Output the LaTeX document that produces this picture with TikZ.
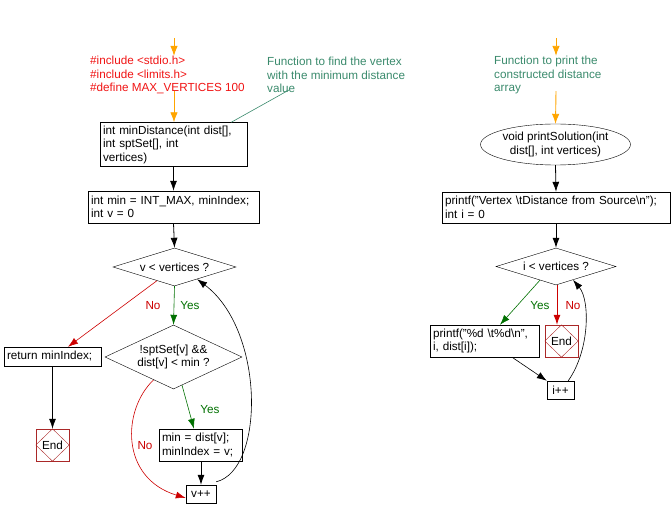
\documentclass[tikz,border=0pt]{standalone}
\usepackage{fontspec}
\setmainfont{Liberation Sans}
\usetikzlibrary{shapes.geometric,arrows.meta,calc}
\definecolor{orangeA}{RGB}{255,165,0}
\definecolor{hdrRed}{RGB}{240,20,20}
\definecolor{noRed}{RGB}{204,0,0}
\definecolor{yesGreen}{RGB}{0,112,0}
\definecolor{cmtGreen}{RGB}{58,138,108}
\definecolor{endRed}{RGB}{170,40,40}
\tikzset{
  every node/.style={font=\fontsize{11.7}{13.5}\selectfont},
  box/.style={draw, rectangle, inner xsep=3pt, inner ysep=0pt, align=left},
  dec/.style={draw, diamond, inner sep=0pt, align=center},
  endbox/.style={draw=endRed, rectangle, minimum width=33pt, minimum height=32pt, inner sep=0pt},
  txt/.style={inner sep=0pt, align=left, anchor=west},
  flow/.style={draw=black, line width=0.8pt, -{Latex[length=10pt,width=7pt]}},
  thinflow/.style={draw=black, line width=0.6pt, -{Latex[length=10pt,width=7pt]}},
  oflow/.style={draw=orangeA, line width=0.9pt, -{Latex[length=10pt,width=7.5pt]}},
  yflow/.style={draw=yesGreen, line width=0.6pt, -{Latex[length=10pt,width=7pt]}},
  nflow/.style={draw=noRed, line width=0.6pt, -{Latex[length=10pt,width=7pt]}},
  ylab/.style={text=yesGreen, inner sep=0pt},
  nlab/.style={text=noRed, inner sep=0pt},
}
\begin{document}
\begin{tikzpicture}[x=1pt,y=-1pt]
\useasboundingbox (0,0) rectangle (672,518);
% ---------- left function ----------
\coordinate (top1) at (174,38);
\node[txt, text=hdrRed] (hdr) at (90,75) {\#include <stdio.h>\\\#include <limits.h>\\\#define MAX\_VERTICES 100};
\node[txt, text=cmtGreen] (cm1) at (267,75) {Function to find the vertex\\with the minimum distance\\value};
\node[box, text width=141pt, minimum height=44pt] (fn) at (173.5,144.5) {int minDistance(int dist[],\\int sptSet[], int\\vertices)};
\node[box, text width=165pt, minimum height=32pt] (init) at (173.5,207) {int min = INT\_MAX, minIndex;\\int v = 0};
\node[dec, minimum width=123pt, minimum height=38pt, shape aspect=3.2] (d1) at (174.5,267) {v < vertices ?};
\node[dec, minimum width=137pt, minimum height=64pt, shape aspect=2.1] (d2) at (173.5,357) {!sptSet[v] \&\&\\dist[v] < min ?};
\node[box, text width=91pt, minimum height=19pt] (ret) at (52.5,356.5) {return minIndex;};
\node[endbox] (end1) at (52.5,445) {End};
\draw[endRed] (end1.north) -- (end1.east) -- (end1.south) -- (end1.west) -- cycle;
\node[box, text width=77pt, minimum height=32pt] (upd) at (200.5,445) {min = dist[v];\\minIndex = v;};
\node[box, text width=24pt, minimum height=18pt, align=center] (vpp) at (201,494) {v++};

\draw[oflow] (top1) -- (top1 |- hdr.north);
\draw[oflow] ([yshift=3pt]top1 |- hdr.south) -- (top1 |- fn.north);
\draw[cmtGreen, line width=0.6pt] ([xshift=22pt,yshift=3pt]cm1.south west) -- ([xshift=-16pt]fn.north east);
\draw[flow] (fn.south) -- (init.north);
\draw[flow] (init.south) -- (d1.north);
\draw[yflow] (d1.south) -- (d2.north);
\node[ylab] (y1) at (190,306) {Yes};
\node[nlab] (n1) at (153,306) {No};
\draw[nflow] ($(d1.south)!0.285!(d1.west)$) -- ([xshift=15.5pt]ret.north);
\draw[flow] (ret.south) -- (end1.north);
\draw[yflow] ($(d2.south)!0.124!(d2.east)$) -- ([xshift=-6.5pt]upd.north);
\node[ylab] (y2) at (210,410) {Yes};
\draw[flow] (upd.south -| vpp.north) -- (vpp.north);
\draw[nflow] ($(d2.south)!0.29!(d2.west)$) .. controls (122,410) and (120,478) .. ([yshift=-4pt]vpp.west);
\node[nlab] (n2) at (145,446) {No};
\draw[thinflow] ([yshift=3pt]vpp.north east) .. controls (265,470) and (265,330) .. ($(d1.south)!0.366!(d1.east)$);

% ---------- right function ----------
\coordinate (top2) at (556,38);
\node[txt, text=cmtGreen] (cm2) at (494,75) {Function to print the\\constructed distance\\array};
\node[draw, ellipse, minimum width=135pt, minimum height=41pt, inner sep=0pt, align=center] (ell) at (555.5,144.5) {void printSolution(int\\dist[], int vertices)};
\node[box, text width=222pt, minimum height=31pt] (pinit) at (556,207.5) {printf("Vertex \textbackslash tDistance from Source\textbackslash n");\\int i = 0};
\node[dec, minimum width=120pt, minimum height=37pt, shape aspect=3.2] (d3) at (556,266.5) {i < vertices ?};
\node[box, text width=103pt, minimum height=32pt] (pbox) at (484.5,341) {printf("\%d \textbackslash t\%d\textbackslash n",\\i, dist[i]);};
\node[endbox] (end2) at (561.5,341) {End};
\draw[endRed] (end2.north) -- (end2.east) -- (end2.south) -- (end2.west) -- cycle;
\node[box, text width=21pt, minimum height=18pt, align=center] (ipp) at (560.5,390) {i++};

\draw[oflow] (top2) -- (top2 |- cm2.north);
\draw[oflow] ([yshift=3pt]top2 |- cm2.south) -- (ell.north);
\draw[flow] (ell.south) -- (pinit.north);
\draw[flow] (pinit.south) -- (d3.north);
\draw[yflow] ($(d3.south)!0.267!(d3.west)$) -- ([xshift=15.5pt]pbox.north);
\node[ylab] (y3) at (540,306) {Yes};
\draw[nflow, line width=0.9pt] ([xshift=1pt]d3.south) -- ([xshift=1pt]d3.south |- end2.north);
\node[nlab] (n3) at (573,306) {No};
\draw[thinflow] ([xshift=27.5pt]pbox.south) -- (ipp.north west);
\draw[thinflow] ([xshift=-6pt]ipp.north east) .. controls (590,350) and (590,300) .. ($(d3.south)!0.283!(d3.east)$);
\end{tikzpicture}
\end{document}
